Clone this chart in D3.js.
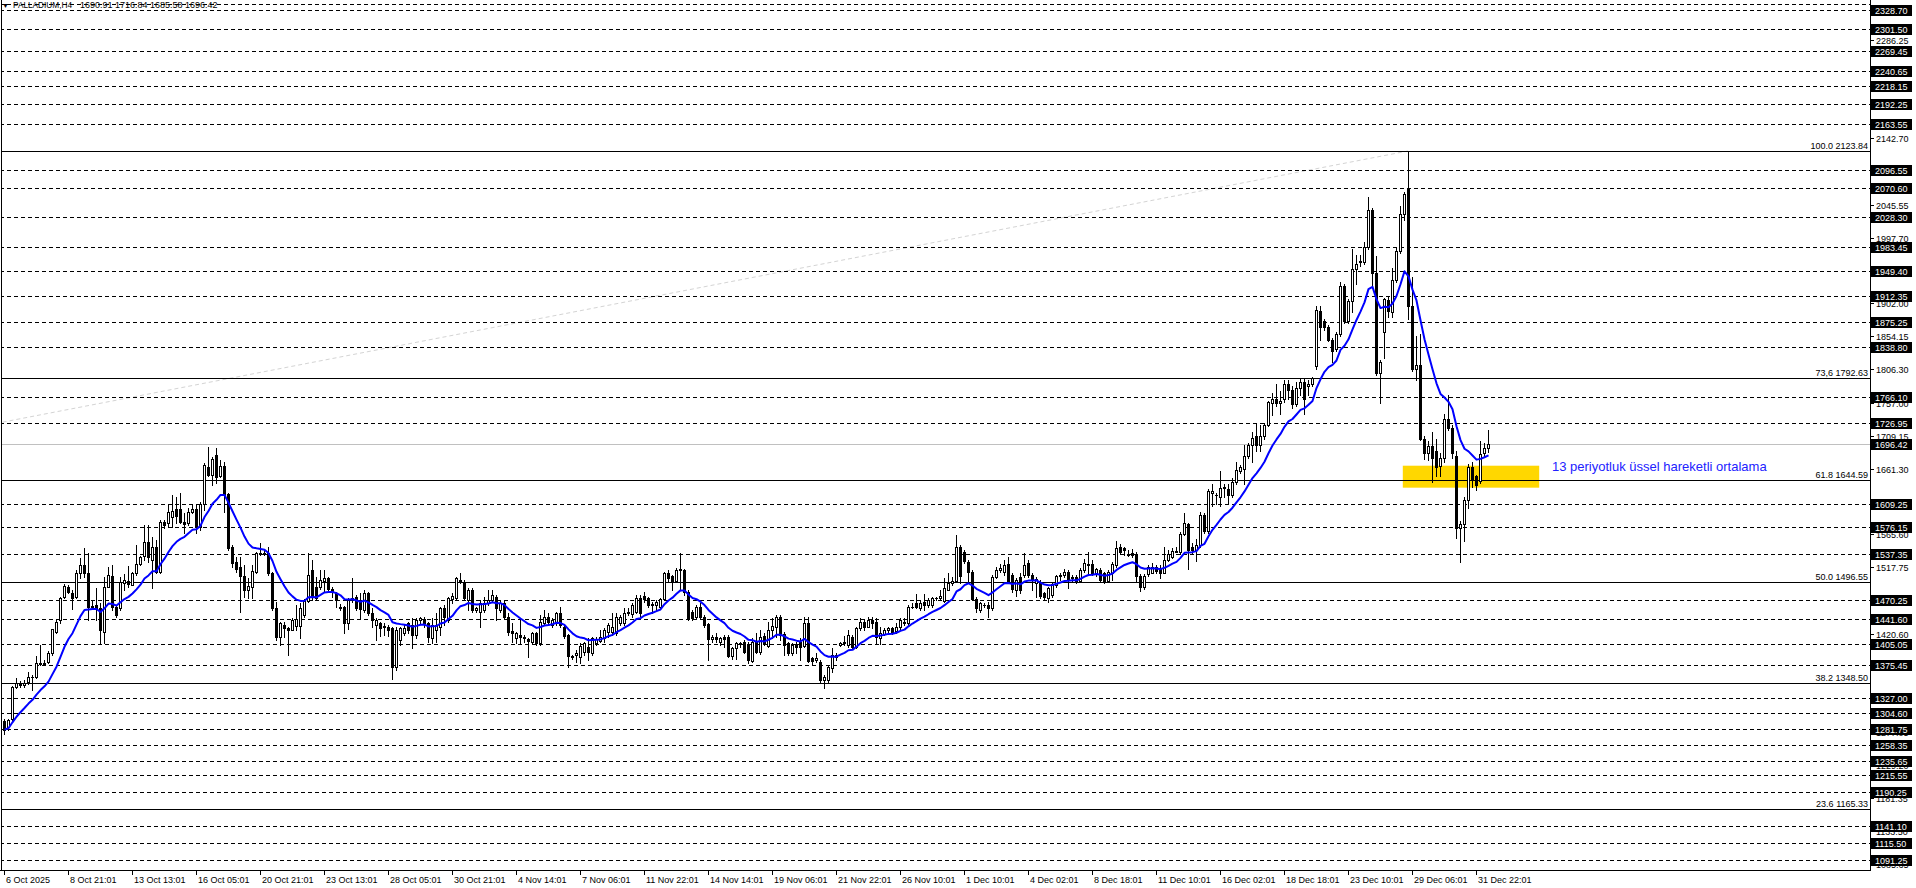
<!DOCTYPE html>
<html><head><meta charset="utf-8">
<script src="https://cdn.jsdelivr.net/npm/d3@7"></script>
<style>
html,body{margin:0;padding:0;background:#fff;overflow:hidden}
svg{display:block}
text{font-family:"Liberation Sans",Arial,sans-serif}
</style></head><body>
<svg id="chart" width="1916" height="888"></svg>
<script>
// ---------------- DATA ----------------
const opens=[
1293,1285.2,1295.9,1343.5,1348,1346,1351,1358,1358,1377,
1378,1380,1392,1423,1440.6,1474.6,1489.2,1480.4,1474.6,1508.6,
1520.2,1508.6,1460,1462,1457.6,1423.6,1489.2,1505.2,1460,1457.6,
1494,1497.9,1491.6,1508.6,1522.2,1533.8,1554.8,1528,1547.5,1511,
1583.9,1581.4,1591,1601.8,1601.8,1583.9,1581.4,1598.4,1601.8,1576.6,
1609.6,1664,1651.9,1681,1650.4,1665,1623.7,1546.5,1525.6,1518.3,
1504.7,1484.3,1488.2,1511,1536.8,1538.7,1538.7,1508.6,1457.6,1416.4,
1433.4,1428.5,1426.1,1431.9,1431.9,1447.9,1468.8,1513.5,1489.2,1489.2,
1498,1501.3,1485.3,1479.5,1460,1460,1435.8,1469.8,1474.6,1469.8,
1455.2,1479.5,1451.3,1433,1435.8,1431,1430.9,1428.5,1372.6,1411.5,
1421,1436,1433.4,1418.8,1440.6,1441.6,1435.8,1413.9,1426,1430.9,
1457.6,1440.6,1470.8,1472.2,1499,1496.5,1469.8,1484.3,1455.2,1452.8,
1455.2,1464.9,1469.8,1473.6,1455.2,1464.9,1445.5,1425,1413.9,1418.8,
1416.4,1412.5,1409,1421,1406.6,1436,1445.5,1433.4,1435.8,1451.3,
1430.9,1418.8,1388.2,1389.6,1387.2,1394.5,1401.8,1392,1407.6,1410.5,
1413.9,1423.6,1423.6,1421,1436,1436,1450.3,1449.4,1452.8,1472.2,
1475.6,1472.2,1463.5,1462,1460,1470.8,1509.6,1504.7,1498,1515,
1513.5,1481.9,1452.8,1445.5,1460,1445.5,1434.8,1412.5,1416.4,1409,
1416.4,1416.4,1388.2,1399.4,1405,1409,1405.7,1381.4,1409,1394.5,
1417.3,1402.8,1426,1430.9,1445.5,1420.3,1406.6,1393,1405.7,1409,
1402.8,1435.8,1384.8,1382.4,1379.9,1353.2,1353.2,1370.2,1389.6,1404.2,
1406.6,1404.2,1416.4,1400.8,1428.5,1437.3,1431,1440.6,1438.2,1413.9,
1420,1426,1428.5,1425,1430,1436,1436,1459,1465,1457.6,
1467.3,1462.5,1462.5,1472,1472.2,1468.8,1484.3,1494,1497.9,1547.5,
1540.2,1525.6,1511,1470.8,1455.2,1462.5,1462.5,1457.6,1503.8,1513.5,
1511,1522.2,1506.2,1484.3,1503.8,1506.2,1524.2,1506.2,1494,1494,
1479.5,1472.2,1477,1491.6,1505,1506.2,1511,1501.3,1502.8,1498,
1513.5,1521.7,1522.2,1507.6,1513.5,1508.6,1498,1509.6,1520.8,1547.5,
1544.9,1536.8,1537.6,1536.8,1504.5,1488.3,1507.1,1509.8,1518,1516.3,
1509.8,1528.7,1532.4,1539.5,1539.5,1566.4,1579.9,1547.5,1542.2,1550.2,
1593.3,1570.2,1626.3,1622.5,1620.2,1633.6,1630.9,1622.9,1641.8,1658,
1660.6,1679.4,1695.6,1709.1,1695.6,1709.1,1725.3,1756.4,1762.9,1756.4,
1762.9,1784.4,1776.4,1754.8,1779.1,1787.1,1781.8,1784.4,1810.3,1891,
1876,1867.9,1849,1835.6,1857.1,1927.1,1876,1905.6,1951.3,1962.2,
1962.2,1983.7,2038.6,1946,1800.6,1860.9,1907.2,1889.5,1935.2,1978.3,
2032.2,2068.8,1897.5,1806,1811.4,1703.7,1683.2,1694,1687.5,1664.9,
1676.8,1733.3,1720.9,1679.4,1574.4,1579.8,1614.8,1663.3,1649.8,1642.5,
1683.2,1690.91];
const highs=[
1296,1297,1345,1355.6,1352,1353,1365.3,1360.5,1388,1404.2,
1382,1396,1427.4,1440.6,1474.6,1493,1491.6,1484.3,1513.5,1530.4,
1545,1538.7,1469.8,1486.8,1464.9,1503.8,1518.3,1520.8,1462.5,1503.8,
1507.6,1519.3,1511,1549.9,1533.8,1579,1579,1562,1557.2,1586.3,
1586.3,1609.6,1622.7,1620.3,1625.1,1596,1603.3,1608.1,1610,1613,
1668.8,1693.1,1678.6,1690.7,1673.7,1671.3,1625.1,1549.9,1532.9,1532.9,
1520.8,1501.3,1520.8,1539.7,1552.3,1542.6,1547.5,1511,1467.3,1438.2,
1438.2,1430.9,1443,1462.5,1465,1470.8,1537.7,1528,1503.8,1513.5,
1513.5,1503.8,1489.2,1481.9,1464,1461,1472.2,1501.3,1477,1479.5,
1484.3,1481.9,1457.6,1443,1438.2,1435.8,1433.4,1430,1430.9,1430.9,
1433.4,1438,1443,1443,1445.5,1445.5,1438.2,1443,1450.3,1460,
1462.5,1474.6,1479.5,1503.8,1508.6,1498.9,1487,1486.8,1460,1469.8,
1474.6,1484.3,1484.3,1477,1469.8,1469.8,1450.3,1435.8,1423.6,1442,
1418.8,1414,1423.6,1423.6,1448,1455.2,1450.3,1443,1452.8,1460,
1433.4,1420,1389.6,1397,1406.6,1409,1413.9,1416.4,1416.4,1426,
1428.5,1435.8,1450.3,1450.3,1448,1457.6,1457.6,1465,1477,1477,
1481.9,1474.6,1467.3,1469.8,1472.2,1511,1513.5,1506.2,1516,1538.7,
1514.4,1484.3,1455.2,1462.5,1464.9,1448,1435.8,1418.8,1421,1416.4,
1418.8,1418.8,1401.8,1409,1409,1411.5,1409,1413.9,1421,1426,
1421,1438.2,1443,1447.9,1447.9,1423.6,1409,1406.6,1409,1413.9,
1445.5,1445.5,1387.2,1392,1382.4,1360.5,1374,1399.4,1392,1409,
1417.3,1426,1418.8,1430.9,1443,1440.6,1445.5,1445.5,1443,1430,
1428.5,1431,1431,1436,1443,1443,1462.5,1465,1478.5,1469.8,
1478.5,1472.2,1474.6,1474.6,1484.3,1501.3,1508.6,1503.8,1564.5,1549.9,
1542.6,1528,1513.5,1474.6,1467.3,1465,1467.3,1506.2,1518.3,1521.7,
1528,1532.9,1508.6,1501.3,1508.6,1537.7,1528,1508.6,1503,1498.9,
1481.9,1489.2,1494,1506.2,1509.6,1514.4,1513.5,1506.2,1506.2,1516,
1528.9,1540.2,1528,1516.9,1515.9,1511,1513.5,1525.6,1555.5,1551.8,
1547.5,1542,1543.7,1539.5,1507.1,1507.1,1520.5,1523.3,1521.2,1520.5,
1547.5,1542,1544.9,1547.5,1569.1,1595.9,1582.6,1552.8,1558.2,1598.6,
1596,1631,1639,1625.6,1657.9,1639,1639,1647.3,1671.4,1666,
1695.6,1698.3,1714.5,1727.9,1725.3,1728,1760.2,1771,1784.4,1773.7,
1789.8,1789.8,1781.7,1787.1,1792.5,1792.5,1789.8,1795.2,1898.6,1897.5,
1879.5,1870.6,1851.8,1859.8,1932.5,1929.8,1908.2,1981,1972.9,1971.9,
1991.8,2056.4,2041.3,1970.3,1819.5,1909.3,1911,1954,1983.7,2044,
2064.5,2123.84,1940.6,1854.4,1857.1,1708,1701,1714.5,1703.7,1683.2,
1741.4,1768.3,1724.4,1687.5,1585.2,1620.2,1668.6,1671.4,1652.5,1701,
1698.3,1716.84];
const lows=[
1274,1280,1294,1341,1343,1343,1348,1338.6,1355.6,1375,
1375,1378,1389.6,1422,1435.8,1472.2,1479.5,1456.2,1472.2,1501.3,
1503.8,1440.6,1457.6,1440.6,1406.6,1406.6,1489.2,1455.2,1445.5,1455.2,
1484.3,1489.2,1491.6,1506.2,1520.8,1528,1525.6,1486.8,1508.6,1508.6,
1574.1,1576.6,1576.6,1581.4,1581.4,1566.9,1579,1596,1566.9,1571.7,
1600.9,1649.8,1637.3,1639.7,1649.4,1598.4,1542.6,1518.3,1511,1452.8,
1474.6,1472.2,1472.2,1508.6,1535.3,1535.3,1506.2,1455.2,1411.5,1404.2,
1416.4,1389.6,1426.1,1426.1,1413.9,1445.5,1467.3,1469.8,1469.8,1485.3,
1483.3,1483.3,1474.6,1460,1455.2,1421.2,1427,1467.3,1455.2,1443,
1452.8,1447.9,1431,1411.5,1417.3,1419,1417.3,1354.2,1367.8,1404.2,
1419,1421,1399.4,1414,1435.8,1430.9,1409,1406.6,1409,1419,
1433.4,1438.2,1465,1469.8,1494,1469.8,1455.2,1453,1452.8,1430,
1452.8,1462.5,1467.3,1440.6,1452.8,1443,1418.8,1409,1406.6,1406.6,
1409,1387.2,1406.6,1404.2,1404.2,1433.4,1433.4,1430.9,1433.4,1430.9,
1413.9,1372.6,1384,1380,1377.5,1389.6,1382.4,1389.6,1404.2,1409,
1409,1416.4,1418.8,1418.8,1433.4,1433.4,1447.9,1445.5,1450.3,1445.5,
1467.3,1460,1451.3,1455.2,1457.6,1469.8,1498,1484.3,1496.5,1484.3,
1477,1440.6,1440.6,1443,1443,1430.9,1382.4,1409,1409,1404.2,
1401.8,1387.2,1384,1384,1401.8,1392,1377.5,1379,1392,1391,
1404.2,1401.8,1413.9,1416.4,1411.5,1389.6,1389.6,1389.6,1392,1382.4,
1401.8,1379,1377,1380,1350.8,1341,1350.8,1365,1382.4,1402.8,
1404.2,1401.8,1399.4,1399.4,1426,1426,1429.9,1428.5,1406.6,1405.7,
1418.8,1421,1420,1421,1428,1433,1433.4,1457.6,1457.6,1455.2,
1455.2,1460,1460,1470,1470,1467.3,1484.3,1492,1496.5,1494,
1523.2,1494,1470,1452.8,1452.8,1460,1445.5,1455.2,1501.3,1511,
1506.2,1494,1482,1475.6,1479.5,1503.8,1503.8,1484.3,1474.6,1472.2,
1469.8,1467.3,1474.6,1489.2,1498.9,1502.8,1486.8,1498,1494,1496.5,
1511,1508.6,1506.2,1504.7,1496.5,1495,1496.5,1498.9,1518,1536.8,
1536,1534,1532,1496.4,1482.9,1485.6,1504.5,1509.8,1509.8,1501.7,
1509.8,1526,1531.4,1539.5,1537,1563.8,1515.2,1536.8,1526,1547.5,
1568,1568,1606.7,1609.4,1607,1620.2,1609.4,1620.2,1639,1655.2,
1639,1676.8,1671.4,1687.5,1687.5,1703.7,1722.6,1738.7,1752,1741.4,
1757.6,1762.9,1749.4,1752.1,1768.3,1741.4,1768.3,1781.7,1806.1,1849,
1862.4,1846.4,1816.8,1832.9,1854.4,1873.3,1873.3,1889.5,1930,1956.8,
1959.5,1981,1927,1797.9,1756.4,1822.1,1881.4,1882.4,1932.5,1975.6,
2024,1878.7,1803.3,1789.8,1702.6,1675.2,1674,1641.7,1649.8,1649.8,
1671.4,1717.1,1676.8,1559.4,1524.9,1555.6,1604,1633.7,1629.4,1639.8,
1679.4,1685.58];
const closes=[
1281,1294.9,1343.5,1348.4,1346,1349,1358,1357,1377.5,1378,
1377,1392,1427,1438,1472.2,1490.2,1480.9,1472.2,1508.6,1520.8,
1508.6,1460,1461,1457.6,1426.1,1489.2,1506.2,1460,1447.9,1496.5,
1498.9,1493,1508.6,1521.7,1532.8,1554.8,1532.8,1547.5,1511,1583.9,
1579,1598.4,1599.4,1592.1,1583.9,1580.5,1598.4,1601.8,1576.6,1609.6,
1666.4,1651.9,1674.7,1649.4,1665,1622.7,1545,1523.2,1514.4,1504.7,
1484.3,1490.2,1512.5,1537.8,1538.7,1536.3,1508.6,1457.6,1416.4,1435.8,
1428.5,1426.1,1440.6,1441.6,1457.6,1468.8,1506.2,1474.6,1472.2,1498.9,
1501.3,1485.3,1481.9,1469.8,1457.6,1435.8,1469.8,1472.2,1457.6,1456.2,
1479.5,1450.3,1440.6,1440.6,1428.5,1432,1426,1372.6,1426,1428.5,
1428.5,1426,1418.8,1440.6,1443,1435.8,1415.4,1433.4,1433.4,1457.6,
1445.5,1472.2,1475.6,1501.3,1498,1472.2,1484.3,1455.2,1458,1464.9,
1465.9,1469.8,1477,1457.6,1464.9,1445.5,1423.6,1421,1421,1416.4,
1414,1410.5,1421,1407.6,1438.2,1445.5,1438.2,1440.6,1450.3,1433.4,
1417.3,1388.2,1386.3,1392,1402.8,1407.6,1394.5,1413.9,1412.5,1416.4,
1426,1433.4,1430.9,1445.5,1445.5,1450.3,1452.8,1462.5,1472.2,1450.3,
1470.8,1462.5,1462,1467.3,1470.8,1509.6,1501.3,1498,1513.5,1513,
1481.9,1443,1443,1460,1445.5,1433.4,1412.5,1416.4,1412.5,1413.9,
1412.5,1388.2,1399.4,1406.6,1407.6,1394.5,1382.4,1409,1394.5,1416.4,
1406.6,1426,1431.9,1445.5,1418.8,1404.2,1393,1404.2,1400.8,1401.8,
1435.8,1381.4,1381.4,1384.8,1353.2,1357,1372.6,1389.6,1386.3,1407.6,
1409,1418.8,1400.8,1428.5,1438.2,1430,1440.6,1435.8,1416.4,1421,
1426,1428.5,1422,1431,1440.6,1438,1460,1460,1460,1465,
1462.5,1470,1472.2,1472.5,1475.6,1486.8,1495,1498,1547.5,1504.7,
1527,1511,1470.8,1457.6,1465,1462,1457.6,1503.8,1513.5,1515.9,
1520.8,1496.5,1485.3,1498.9,1484.3,1520.8,1506.2,1498.9,1499.9,1475.6,
1474.6,1486.8,1492.6,1504.7,1506.2,1511,1498.9,1502.8,1498,1513.5,
1523.2,1520.8,1508.6,1514.4,1498.9,1498,1511,1522.2,1544.9,1539.5,
1542,1536,1535.7,1504.5,1488.3,1504.5,1518,1518,1512.5,1509.8,
1528.7,1536.8,1541.1,1541.1,1566.4,1582.6,1542.2,1542.2,1550.2,1593.3,
1570.2,1628.3,1628.6,1623,1633.6,1634.6,1622.9,1641.8,1658.9,1663.3,
1679.4,1695.6,1706.4,1695.6,1709.1,1725.3,1757.6,1762.9,1756.4,1760.2,
1784.4,1776.4,1754.8,1779.1,1787.1,1762.9,1784.4,1792.5,1892.2,1867.9,
1867.9,1849,1832.9,1857.1,1927.1,1876,1905.6,1951.3,1959.5,1963.2,
1983.7,2038.6,1946,1800.6,1816.8,1908.3,1891,1935.2,1978.3,2032.2,
2061.8,1897.5,1806,1811.4,1703.7,1683.2,1694,1676.8,1663.3,1676.8,
1733.3,1720.9,1683.2,1574.4,1580.9,1614.8,1663.3,1644.4,1638,1682.1,
1691.8,1696.42];

const timeLabels=["6 Oct 2025","8 Oct 21:01","13 Oct 13:01","16 Oct 05:01","20 Oct 21:01","23 Oct 13:01","28 Oct 05:01","30 Oct 21:01","4 Nov 14:01","7 Nov 06:01","11 Nov 22:01","14 Nov 14:01","19 Nov 06:01","21 Nov 22:01","26 Nov 10:01","1 Dec 10:01","4 Dec 02:01","8 Dec 18:01","11 Dec 10:01","16 Dec 02:01","18 Dec 18:01","23 Dec 10:01","29 Dec 06:01","31 Dec 22:01"];
const timeLabelBars=[0,16,32,48,64,80,96,112,128,144,160,176,192,208,224,240,256,272,288,304,320,336,352,368];

const levelLines=[2328.70,2301.50,2269.45,2240.65,2218.15,2192.25,2163.55,2096.55,2070.60,2028.30,1983.45,1949.40,1912.35,1875.25,1838.80,1766.10,1726.95,1609.25,1576.15,1537.35,1470.25,1441.60,1405.05,1375.45,1327.00,1304.60,1281.75,1258.35,1235.65,1215.55,1190.25,1141.10,1115.50,1091.25];
const unlabeledLines=[2338.0];
const axisTicks=[2334.10,2286.25,2142.70,2045.55,1997.70,1902.00,1854.15,1806.30,1757.00,1709.15,1661.30,1565.60,1517.75,1420.60,1277.05,1229.20,1181.35,1133.50,1085.65];
const fibLevelNames=["100.0","73,6","61.8","50.0","38.2","23.6"];
const fibLevelPrices=[2123.84,1792.63,1644.59,1496.55,1348.50,1165.33];
const fibTrendBars=[-765,351];
const fibTrendPrices=[869.26,2123.84];
const currentPrice=1696.42;
const zoneBars=[349.7,383.8];
const zonePrices=[1633.4,1665.4];
const emaPeriod=13;
const titleSymbol="PALLADIUM,H4";
const titleValues=["1690.91","1716.84","1685.58","1696.42"];
const annotation="13 periyotluk üssel hareketli ortalama";

// ---------------- LAYOUT ----------------
const plotLeft=2, plotRight=1870, plotBottom=870;
const svg=d3.select("#chart");
const x=d3.scaleLinear().domain([0,371]).range([4,1488]);
const y=d3.scaleLinear().domain([1165.33,2123.84]).range([809,151]);
const ry=p=>Math.round(y(p));

const defs=svg.append("defs");
defs.append("clipPath").attr("id","plot").append("rect")
  .attr("x",plotLeft).attr("y",0).attr("width",plotRight-plotLeft).attr("height",plotBottom);
const plot=svg.append("g").attr("clip-path","url(#plot)");

// yellow zone
plot.append("rect")
  .attr("x",x(zoneBars[0])).attr("y",y(zonePrices[1]))
  .attr("width",x(zoneBars[1])-x(zoneBars[0])).attr("height",y(zonePrices[0])-y(zonePrices[1]))
  .attr("fill","#ffd700");

// fib trend diagonal
plot.append("line")
  .attr("x1",x(fibTrendBars[0])).attr("y1",y(fibTrendPrices[0]))
  .attr("x2",x(fibTrendBars[1])).attr("y2",y(fibTrendPrices[1]))
  .attr("stroke","#d4d4d4").attr("stroke-width",1).attr("stroke-dasharray","4,3");

// dashed horizontal level lines
plot.selectAll(".lvl").data(levelLines.concat(unlabeledLines)).enter().append("line")
  .attr("x1",0).attr("x2",plotRight)
  .attr("y1",d=>ry(d)+0.5).attr("y2",d=>ry(d)+0.5)
  .attr("stroke","#000").attr("stroke-width",1).attr("stroke-dasharray","4,3")
  .attr("shape-rendering","crispEdges");

// fib solid lines
plot.selectAll(".fib").data(fibLevelPrices).enter().append("line")
  .attr("x1",0).attr("x2",plotRight)
  .attr("y1",d=>ry(d)+0.5).attr("y2",d=>ry(d)+0.5)
  .attr("stroke","#000").attr("stroke-width",1).attr("shape-rendering","crispEdges");

// current price line
plot.append("line").attr("x1",0).attr("x2",plotRight)
  .attr("y1",ry(currentPrice)+0.5).attr("y2",ry(currentPrice)+0.5)
  .attr("stroke","#c0c0c0").attr("stroke-width",1).attr("shape-rendering","crispEdges");

// fib labels
svg.selectAll(".fibl").data(fibLevelPrices).enter().append("text")
  .attr("x",plotRight-2).attr("y",d=>ry(d)-2)
  .attr("text-anchor","end").attr("font-size","9px").attr("fill","#000")
  .text((d,i)=>fibLevelNames[i]+" "+d.toFixed(2));

// candles
const idx=d3.range(closes.length);
const cg=plot.append("g").attr("shape-rendering","crispEdges");
idx.forEach(i=>{
  const o=opens[i], c=closes[i];
  const hi=Math.max(highs[i],o,c), lo=Math.min(lows[i],o,c);
  const cx=Math.round(x(i));
  const yh=ry(hi), yl=ry(lo);
  cg.append("rect").attr("x",cx).attr("y",yh).attr("width",1).attr("height",yl-yh+1).attr("fill","#000");
  const top=ry(Math.max(o,c)), bot=ry(Math.min(o,c));
  cg.append("rect").attr("x",cx-1).attr("y",top).attr("width",3).attr("height",bot-top+1).attr("fill","#000");
  if(c>o && bot-top>=2){
    cg.append("rect").attr("x",cx).attr("y",top+1).attr("width",1).attr("height",bot-top-1).attr("fill","#fff");
  }
});

// EMA 13
const k=2/(emaPeriod+1);
const ema=[];
closes.forEach((c,i)=>{ema.push(i===0?c:ema[i-1]+k*(c-ema[i-1]));});
plot.append("path").datum(idx)
  .attr("d",d3.line().x(i=>x(i)+0.5).y(i=>y(ema[i])))
  .attr("fill","none").attr("stroke","#0000ff").attr("stroke-width",2)
  .attr("stroke-linejoin","round");

// annotation
svg.append("text").attr("x",1552).attr("y",471)
  .attr("font-size","13px").attr("fill","#2222ff").text(annotation);

// frame
svg.append("line").attr("x1",plotRight+0.5).attr("x2",plotRight+0.5).attr("y1",0).attr("y2",plotBottom+1)
  .attr("stroke","#000").attr("shape-rendering","crispEdges");
svg.append("line").attr("x1",0).attr("x2",plotRight+1).attr("y1",plotBottom+0.5).attr("y2",plotBottom+0.5)
  .attr("stroke","#000").attr("shape-rendering","crispEdges");
svg.append("line").attr("x1",1.5).attr("x2",1.5).attr("y1",0).attr("y2",plotBottom)
  .attr("stroke","#000").attr("shape-rendering","crispEdges");

// right axis plain ticks
const ax=svg.append("g");
axisTicks.forEach(p=>{
  ax.append("line").attr("x1",plotRight).attr("x2",plotRight+4)
    .attr("y1",ry(p)+0.5).attr("y2",ry(p)+0.5).attr("stroke","#000").attr("shape-rendering","crispEdges");
  ax.append("text").attr("x",plotRight+6).attr("y",ry(p)+3.5)
    .attr("font-size","9px").attr("fill","#000").text(p.toFixed(2));
});
// black level boxes
levelLines.concat([currentPrice]).forEach(p=>{
  const yy=ry(p);
  ax.append("rect").attr("x",plotRight+1).attr("y",yy-5).attr("width",41).attr("height",11)
    .attr("fill","#000").attr("shape-rendering","crispEdges");
  ax.append("text").attr("x",plotRight+5).attr("y",yy+3.5)
    .attr("font-size","9px").attr("fill","#fff").text(p.toFixed(2));
});

// time axis
timeLabels.forEach((t,j)=>{
  const xx=Math.round(x(timeLabelBars[j]));
  ax.append("line").attr("x1",xx+0.5).attr("x2",xx+0.5).attr("y1",plotBottom).attr("y2",plotBottom+5)
    .attr("stroke","#000").attr("shape-rendering","crispEdges");
  ax.append("text").attr("x",xx+2).attr("y",plotBottom+13)
    .attr("font-size","9px").attr("fill","#000").text(t);
});

// title
svg.append("text").attr("x",2).attr("y",8).attr("font-size","7px").attr("fill","#000").text("▼");
svg.append("text").attr("x",13).attr("y",8).attr("font-size","9px").attr("fill","#000")
  .attr("textLength",59).attr("lengthAdjust","spacingAndGlyphs").text(titleSymbol);
const tvx=[80,115,150,185];
titleValues.forEach((v,j)=>{
  svg.append("text").attr("x",tvx[j]).attr("y",8).attr("font-size","9px").attr("fill","#000").text(v);
});
</script>
</body></html>
